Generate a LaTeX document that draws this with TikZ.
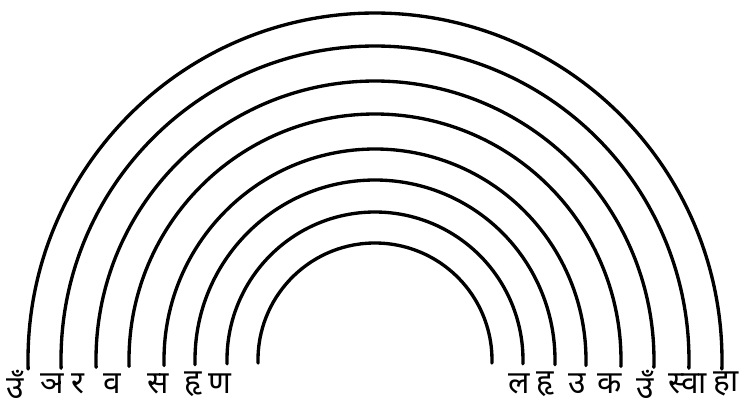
\documentclass[tikz,border=0pt]{standalone}
\usepackage{fontspec}
\newfontfamily\devfont[Script=Devanagari]{Noto Sans}
\usepackage{tikz}
\usetikzlibrary{positioning, calc}
\tikzset{
  ring/.style={line width=1.9pt, line cap=round},
  bija/.style={font=\devfont\fontsize{18}{18}\selectfont, inner sep=0pt, anchor=center},
}

\begin{document}
\begin{tikzpicture}[x=0.02cm, y=0.02cm]
  \useasboundingbox (-375,-49) rectangle (369,360);
  % concentric half rings
  \foreach \r in {347, 314, 279, 246, 211, 180, 148, 117}
    \draw[ring] (181.5:\r) arc[start angle=181.5, end angle=-1.5, radius=\r];
  % letters on the left feet
  \foreach \x/\t/\n in {-360/उँ/l1, -323/ञ/l2, -297/र/l3, -263/व/l4, -217/स/l5, -182/हृ/l6, -155/ण/l7}
    \node[bija] (\n) at (\x,-24) {\t};
  % letters on the right feet
  \foreach \x/\t/\n in {144/ल/r1, 170/हृ/r2, 202/उ/r3, 235/क/r4, 270/उँ/r5, 313/स्वा/r6, 351/हा/r7}
    \node[bija] (\n) at (\x,-24) {\t};
\end{tikzpicture}
\end{document}
